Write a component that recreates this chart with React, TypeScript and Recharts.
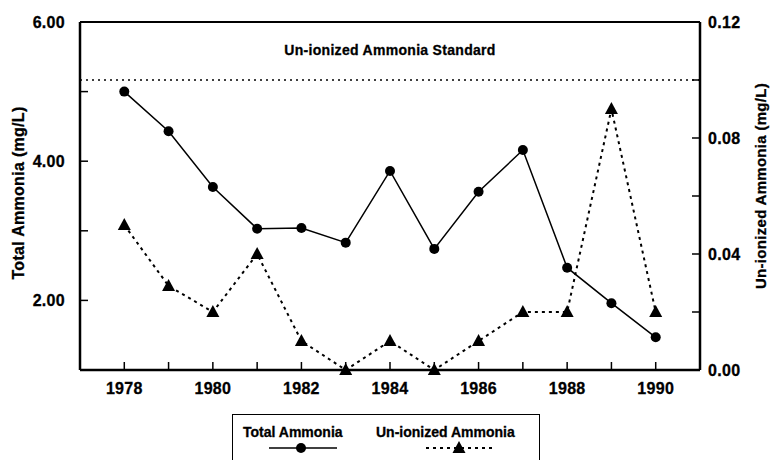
import {
  ComposedChart,
  Line,
  XAxis,
  YAxis,
  ReferenceLine,
  Label,
} from "recharts";

// Annual values
const years = [1978, 1979, 1980, 1981, 1982, 1983, 1984, 1985, 1986, 1987, 1988, 1989, 1990];
const totalAmmonia = [5.0, 4.43, 3.63, 3.03, 3.04, 2.83, 3.86, 2.74, 3.56, 4.16, 2.47, 1.96, 1.47];
const unionizedAmmonia = [0.05, 0.029, 0.02, 0.04, 0.01, 0.0, 0.01, 0.0, 0.01, 0.02, 0.02, 0.09, 0.02];
const unionizedStandard = 0.1;

const xTicks = years;
const leftTicks = [2, 3, 4, 5, 6];
const rightTicks = [0, 0.02, 0.04, 0.06, 0.08, 0.1, 0.12];

const data = years.map((year, i) => ({
  year,
  total: totalAmmonia[i],
  unionized: unionizedAmmonia[i],
}));

const FONT = "'Liberation Sans', Arial, sans-serif";
// slight stroke to mimic the heavy type of the scanned figure
const tickStyle = {
  fontSize: 16,
  fontWeight: 700,
  fill: "#000",
  stroke: "#000",
  strokeWidth: 0.3,
  fontFamily: FONT,
  letterSpacing: 0.3,
};

const Triangle = (props: any) => {
  const { cx, cy, index } = props;
  if (cx == null || cy == null) return <g key={index} />;
  return (
    <path
      key={index}
      d={`M${cx},${cy - 7} L${cx + 6.5},${cy + 5} L${cx - 6.5},${cy + 5} Z`}
      fill="#000"
    />
  );
};

// legend box sits under the plot, like the original figure
const LegendBox = () => (
  <div
    style={{
      position: "absolute",
      left: 232,
      top: 414,
      border: "1.5px solid #000",
      width: 308,
      height: 60,
      boxSizing: "border-box",
      fontFamily: FONT,
      fontWeight: 700,
      fontSize: 14,
      color: "#000",
      WebkitTextStroke: "0.3px #000",
    }}
  >
    <span style={{ position: "absolute", left: 10, top: 9 }}>Total Ammonia</span>
    <span style={{ position: "absolute", left: 143, top: 9 }}>Un-ionized Ammonia</span>
    <svg width={305} height={60} style={{ position: "absolute", left: 0, top: 0 }}>
      <line x1={36} x2={104} y1={33} y2={33} stroke="#000" strokeWidth={1.5} />
      <circle cx={68} cy={33} r={5} fill="#000" />
      <line x1={193} x2={263} y1={33} y2={33} stroke="#000" strokeWidth={2} strokeDasharray="3 4" />
      <path d="M226,26 L232.5,38 L219.5,38 Z" fill="#000" />
    </svg>
  </div>
);

const leftTitle = (props: any) => {
  const { viewBox } = props;
  const x = viewBox.x + 18;
  const y = viewBox.y + viewBox.height / 2 - 3;
  return (
    <text
      x={x}
      y={y}
      transform={`rotate(-90, ${x}, ${y})`}
      textAnchor="middle"
      dominantBaseline="central"
      style={{ ...tickStyle }}
    >
      Total Ammonia (mg/L)
    </text>
  );
};

const rightTitle = (props: any) => {
  const { viewBox } = props;
  const x = viewBox.x + 60;
  const y = viewBox.y + viewBox.height / 2 - 10;
  return (
    <text
      x={x}
      y={y}
      transform={`rotate(-90, ${x}, ${y})`}
      textAnchor="middle"
      dominantBaseline="central"
      style={{ ...tickStyle, fontSize: 15 }}
    >
      Un-ionized Ammonia (mg/L)
    </text>
  );
};

const standardLabel = (props: any) => {
  const { viewBox } = props;
  return (
    <text
      x={viewBox.x + viewBox.width / 2}
      y={viewBox.y - 30}
      textAnchor="middle"
      dominantBaseline="central"
      style={{ ...tickStyle, fontSize: 14 }}
    >
      Un-ionized Ammonia Standard
    </text>
  );
};

export default function App() {
  return (
    <div style={{ width: 770, height: 460, background: "#fff", position: "relative", overflow: "hidden" }}>
      <style>{`body{margin:0;background:#fff}`}</style>
      <ComposedChart
        width={770}
        height={460}
        data={data}
        margin={{ top: 22, right: 0, bottom: 50, left: 0 }}
      >
        <XAxis
          dataKey="year"
          type="number"
          domain={[1977, 1991]}
          ticks={xTicks}
          tickFormatter={(v: number) => (v % 2 === 0 ? String(v) : "")}
          height={40}
          tickSize={-8}
          tickMargin={21}
          tick={tickStyle}
          axisLine={{ stroke: "#000", strokeWidth: 2.5 }}
          tickLine={{ stroke: "#000", strokeWidth: 1.5 }}
        />
        <YAxis
          yAxisId="left"
          orientation="left"
          domain={[1, 6]}
          ticks={leftTicks}
          tickFormatter={(v: number) => (v % 2 === 0 ? v.toFixed(2) : "")}
          width={80}
          tickSize={-8}
          tickMargin={23}
          tick={tickStyle}
          axisLine={{ stroke: "#000", strokeWidth: 2.5 }}
          tickLine={{ stroke: "#000", strokeWidth: 1.5 }}
        >
          <Label content={leftTitle} />
        </YAxis>
        <YAxis
          yAxisId="right"
          orientation="right"
          domain={[0, 0.12]}
          ticks={rightTicks}
          tickFormatter={(v: number) =>
            Math.round(v * 100) % 4 === 0 ? v.toFixed(2) : ""
          }
          width={70}
          tickSize={-8}
          tickMargin={16}
          tick={tickStyle}
          axisLine={{ stroke: "#000", strokeWidth: 2.5 }}
          tickLine={{ stroke: "#000", strokeWidth: 1.5 }}
        >
          <Label content={rightTitle} />
        </YAxis>
        <ReferenceLine yAxisId="left" y={6} stroke="#000" strokeWidth={2} />
        <ReferenceLine
          yAxisId="right"
          y={unionizedStandard}
          stroke="#000"
          strokeWidth={1.5}
          strokeDasharray="2 4"
          label={standardLabel}
        />
        <Line
          yAxisId="right"
          type="linear"
          dataKey="unionized"
          stroke="#000"
          strokeWidth={2}
          strokeDasharray="3 4"
          dot={Triangle}
          activeDot={false}
          isAnimationActive={false}
        />
        <Line
          yAxisId="left"
          type="linear"
          dataKey="total"
          stroke="#000"
          strokeWidth={1.5}
          dot={{ r: 5, fill: "#000", stroke: "#000", strokeWidth: 0 }}
          activeDot={false}
          isAnimationActive={false}
        />
      </ComposedChart>
      <LegendBox />
    </div>
  );
}
